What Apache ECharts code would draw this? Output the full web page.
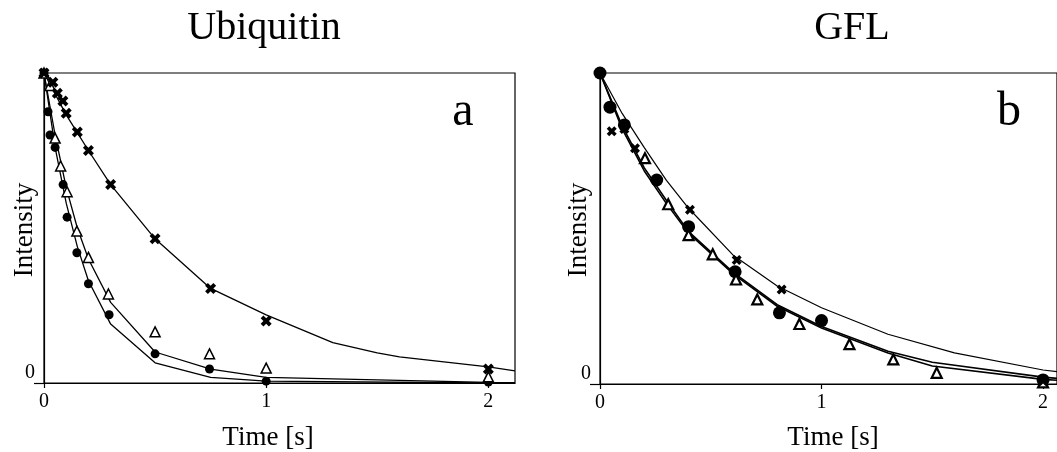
<!DOCTYPE html>
<html>
<head>
<meta charset="utf-8">
<script src="https://cdn.jsdelivr.net/npm/echarts@6/dist/echarts.min.js"></script>
<style>
html,body{margin:0;padding:0;background:#fff;}
#chart{width:1057px;height:452px;}
</style>
</head>
<body>
<div id="chart"></div>
<script>
// ---------- Data ----------
const xTickValues = [0, 1, 2];
const yTickValues = [0];

// Panel a: Ubiquitin
const ubiCrossT  = [0, 0.04, 0.06, 0.085, 0.10, 0.15, 0.20, 0.30, 0.50, 0.75, 1.00, 2.00];
const ubiCrossI  = [1.0, 0.97, 0.935, 0.91, 0.87, 0.81, 0.75, 0.64, 0.465, 0.305, 0.20, 0.045];
const ubiCircT   = [0, 0.018, 0.027, 0.05, 0.086, 0.104, 0.148, 0.20, 0.293, 0.50, 0.745, 1.00, 2.00];
const ubiCircI   = [1.0, 0.875, 0.80, 0.76, 0.64, 0.535, 0.42, 0.32, 0.22, 0.094, 0.045, 0.006, 0.003];
const ubiTriT    = [0, 0.027, 0.05, 0.075, 0.104, 0.148, 0.20, 0.29, 0.50, 0.745, 1.00, 2.00];
const ubiTriI    = [1.0, 0.96, 0.79, 0.70, 0.617, 0.49, 0.405, 0.287, 0.165, 0.094, 0.048, 0.02];

const ubiCrossFitT = [0, 0.1, 0.2, 0.3, 0.5, 0.75, 1.0, 1.3, 1.5, 1.6, 1.8, 2.0, 2.12];
const ubiCrossFitI = [1.0, 0.865, 0.75, 0.64, 0.465, 0.305, 0.22, 0.13, 0.097, 0.084, 0.068, 0.052, 0.039];
const ubiCircFitT  = [0, 0.05, 0.1, 0.15, 0.2, 0.3, 0.5, 0.75, 1.0, 2.0, 2.12];
const ubiCircFitI  = [1.0, 0.76, 0.58, 0.44, 0.33, 0.19, 0.065, 0.018, 0.006, 0.0, 0.0];
const ubiTriFitT   = [0, 0.05, 0.1, 0.15, 0.2, 0.3, 0.5, 0.75, 1.0, 2.0, 2.12];
const ubiTriFitI   = [1.0, 0.80, 0.63, 0.50, 0.40, 0.26, 0.10, 0.045, 0.018, 0.002, 0.001];

// Panel b: GFL
const gflCircT  = [0, 0.045, 0.11, 0.256, 0.40, 0.61, 0.81, 1.00, 2.00];
const gflCircI  = [1.0, 0.89, 0.833, 0.656, 0.506, 0.361, 0.229, 0.204, 0.013];
const gflCrossT = [0.053, 0.11, 0.158, 0.406, 0.617, 0.82, 2.00];
const gflCrossI = [0.813, 0.82, 0.758, 0.56, 0.399, 0.304, 0.01];
const gflTriT   = [0.203, 0.308, 0.40, 0.509, 0.614, 0.71, 0.90, 1.126, 1.324, 1.52, 2.00];
const gflTriI   = [0.726, 0.578, 0.479, 0.417, 0.336, 0.272, 0.193, 0.128, 0.079, 0.036, 0.005];

const gflCrossFitT = [0, 0.1, 0.2, 0.3, 0.4, 0.6, 0.8, 1.0, 1.3, 1.6, 2.0, 2.063];
const gflCrossFitI = [1.0, 0.87, 0.76, 0.655, 0.565, 0.415, 0.315, 0.245, 0.16, 0.10, 0.045, 0.04];
const gflCircFitT  = [0, 0.1, 0.2, 0.3, 0.4, 0.6, 0.8, 1.0, 1.3, 1.5, 2.0, 2.063];
const gflCircFitI  = [1.0, 0.83, 0.695, 0.59, 0.49, 0.36, 0.255, 0.185, 0.105, 0.07, 0.022, 0.018];
const gflTriFitT   = [0, 0.1, 0.2, 0.3, 0.4, 0.6, 0.8, 1.0, 1.3, 1.5, 2.0, 2.063];
const gflTriFitI   = [1.0, 0.82, 0.685, 0.58, 0.485, 0.355, 0.25, 0.18, 0.10, 0.058, 0.015, 0.012];

// ---------- Chart ----------
const FONT = "'Liberation Serif', 'DejaVu Serif', serif";
const zip = (a, b) => a.map((v, i) => [v, b[i]]);
const CROSS = 'path://M0,3 L3,0 L6,3 L9,0 L12,3 L9,6 L12,9 L9,12 L6,9 L3,12 L0,9 L3,6 Z';

function mkX(idx, max) {
  return {
    type: 'value', gridIndex: idx, min: 0, max: max, interval: 1,
    axisLine: { show: true, onZero: false, lineStyle: { color: '#000', width: 1.2 } },
    axisTick: { show: true, customValues: xTickValues, length: 5, lineStyle: { color: '#000', width: 1.2 } },
    axisLabel: {
      customValues: xTickValues, margin: 9, fontSize: 20, color: '#000', fontFamily: FONT,
      formatter: v => (Math.abs(v - Math.round(v)) < 1e-9 ? String(Math.round(v)) : '')
    },
    splitLine: { show: false }
  };
}
function mkY(idx) {
  return {
    type: 'value', gridIndex: idx, min: 0, max: 1, interval: 1,
    axisLine: { show: true, lineStyle: { color: '#000', width: 1.2 } },
    axisTick: { show: true, customValues: yTickValues, length: 10, lineStyle: { color: '#000', width: 1.2 } },
    axisLabel: {
      customValues: yTickValues, margin: 9, fontSize: 20, color: '#000', fontFamily: FONT,
      verticalAlign: 'bottom',
      formatter: v => (v === 0 ? '0' : '')
    },
    splitLine: { show: false }
  };
}
function fitLine(g, t, i, w) {
  return {
    type: 'line', xAxisIndex: g, yAxisIndex: g, data: zip(t, i), showSymbol: false, symbol: 'none',
    smooth: false, lineStyle: { color: '#000', width: w, opacity: 1 }, z: 2, silent: true
  };
}
function marks(g, t, i, kind, size) {
  const s = {
    type: 'scatter', xAxisIndex: g, yAxisIndex: g, data: zip(t, i), symbolSize: size, z: 5, silent: true
  };
  if (kind === 'circle') {
    s.symbol = 'circle'; s.itemStyle = { color: '#000', opacity: 1 };
  } else if (kind === 'cross') {
    s.symbol = CROSS; s.itemStyle = { color: '#000', opacity: 1 };
  } else {
    s.symbol = 'triangle'; s.itemStyle = { color: '#fff', borderColor: '#000', borderWidth: g === 0 ? 1.5 : 2.2, opacity: 1 };
  }
  return s;
}
function txt(text, x, y, size, rot) {
  return {
    type: 'text', x: x, y: y, rotation: rot || 0, silent: true,
    style: { text: text, fontSize: size, fontFamily: FONT, fill: '#000', align: 'center', verticalAlign: 'middle' }
  };
}

const chart = echarts.init(document.getElementById('chart'), null, { renderer: 'canvas' });
chart.setOption({
  animation: false,
  backgroundColor: '#fff',
  grid: [
    { left: 44, top: 73, width: 471, height: 310, show: true, borderColor: '#000', borderWidth: 1.2, backgroundColor: 'transparent' },
    { left: 600, top: 73, width: 457, height: 311, show: true, borderColor: '#000', borderWidth: 1.2, backgroundColor: 'transparent' }
  ],
  xAxis: [mkX(0, 2.12), mkX(1, 2.063)],
  yAxis: [mkY(0), mkY(1)],
  graphic: [
    txt('Ubiquitin', 264, 28, 40),
    txt('GFL', 852, 28, 40),
    txt('a', 463, 112, 48),
    txt('b', 1009, 112, 48),
    txt('Time [s]', 268, 438, 27),
    txt('Time [s]', 833, 438, 27),
    txt('Intensity', 25, 230, 27, Math.PI / 2),
    txt('Intensity', 579, 230, 27, Math.PI / 2)
  ],
  series: [
    fitLine(0, ubiCrossFitT, ubiCrossFitI, 1.3),
    fitLine(0, ubiCircFitT, ubiCircFitI, 1.3),
    fitLine(0, ubiTriFitT, ubiTriFitI, 1.3),
    marks(0, ubiCircT, ubiCircI, 'circle', 9),
    marks(0, ubiTriT, ubiTriI, 'triangle', 10),
    marks(0, ubiCrossT, ubiCrossI, 'cross', 11),

    fitLine(1, gflCrossFitT, gflCrossFitI, 1.2),
    fitLine(1, gflCircFitT, gflCircFitI, 1.6),
    fitLine(1, gflTriFitT, gflTriFitI, 1.6),
    marks(1, gflCircT, gflCircI, 'circle', 13),
    marks(1, gflTriT, gflTriI, 'triangle', 10),
    marks(1, gflCrossT, gflCrossI, 'cross', 10)
  ]
});
</script>
</body>
</html>
